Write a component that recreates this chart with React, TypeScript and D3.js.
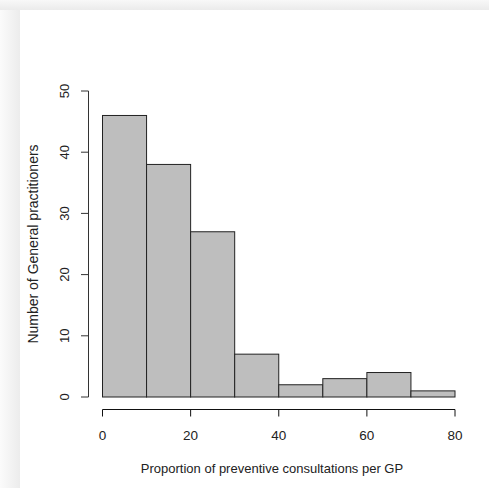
import React from 'react';
import * as d3 from 'd3';

// histogram bins (width 10) and counts
const binStarts = [0, 10, 20, 30, 40, 50, 60, 70];
const counts = [46, 38, 27, 7, 2, 3, 4, 1];
const xTicks = [0, 20, 40, 60, 80];
const yTicks = [0, 10, 20, 30, 40, 50];

const W = 489;
const H = 488;

export default function App() {
  const x = d3.scaleLinear().domain([0, 80]).range([102.5, 455]);
  const y = d3.scaleLinear().domain([0, 50]).range([397, 91]);
  const font = "'Liberation Sans', Arial, sans-serif";

  return (
    <svg width={W} height={H} style={{ position: 'absolute', left: 0, top: 0 }}>
      <defs>
        <linearGradient id="shL" x1="0" x2="1" y1="0" y2="0">
          <stop offset="0" stopColor="#fbfbfb" />
          <stop offset="1" stopColor="#ececec" />
        </linearGradient>
        <linearGradient id="shT" x1="0" x2="0" y1="0" y2="1">
          <stop offset="0" stopColor="#f8f8f8" />
          <stop offset="1" stopColor="#ebebeb" />
        </linearGradient>
      </defs>
      <rect x={0} y={0} width={W} height={H} fill="#f7f7f7" />
      <rect x={0} y={0} width={20} height={H} fill="url(#shL)" />
      <rect x={0} y={0} width={W} height={10} fill="url(#shT)" />
      <rect x={20} y={10} width={W - 20} height={H - 10} fill="#ffffff" />

      {binStarts.map((b, i) => (
        <rect
          key={i}
          x={x(b)}
          y={y(counts[i])}
          width={x(b + 10) - x(b)}
          height={y(0) - y(counts[i])}
          fill="#bebebe"
          stroke="#222"
          strokeWidth={1}
        />
      ))}

      {/* y axis */}
      <line x1={88.5} x2={88.5} y1={y(0)} y2={y(50)} stroke="#333" />
      {yTicks.map(t => (
        <g key={t}>
          <line x1={81} x2={88.5} y1={y(t)} y2={y(t)} stroke="#333" />
          <text
            transform={`translate(${69},${y(t)}) rotate(-90)`}
            textAnchor="middle"
            fontFamily={font}
            fontSize={13}
            fill="#222"
          >
            {t}
          </text>
        </g>
      ))}

      {/* x axis */}
      <line x1={x(0)} x2={x(80)} y1={409.5} y2={409.5} stroke="#111" />
      {xTicks.map(t => (
        <g key={t}>
          <line x1={x(t)} x2={x(t)} y1={409.5} y2={416.5} stroke="#111" />
          <text x={x(t)} y={440} textAnchor="middle" fontFamily={font} fontSize={13.5} fill="#222">
            {t}
          </text>
        </g>
      ))}

      <text x={272} y={473} textAnchor="middle" fontFamily={font} fontSize={13} fill="#222">
        Proportion of preventive consultations per GP
      </text>
      <text
        transform="translate(38,244) rotate(-90)"
        textAnchor="middle"
        fontFamily={font}
        fontSize={14}
        fill="#222"
      >
        Number of General practitioners
      </text>
    </svg>
  );
}
